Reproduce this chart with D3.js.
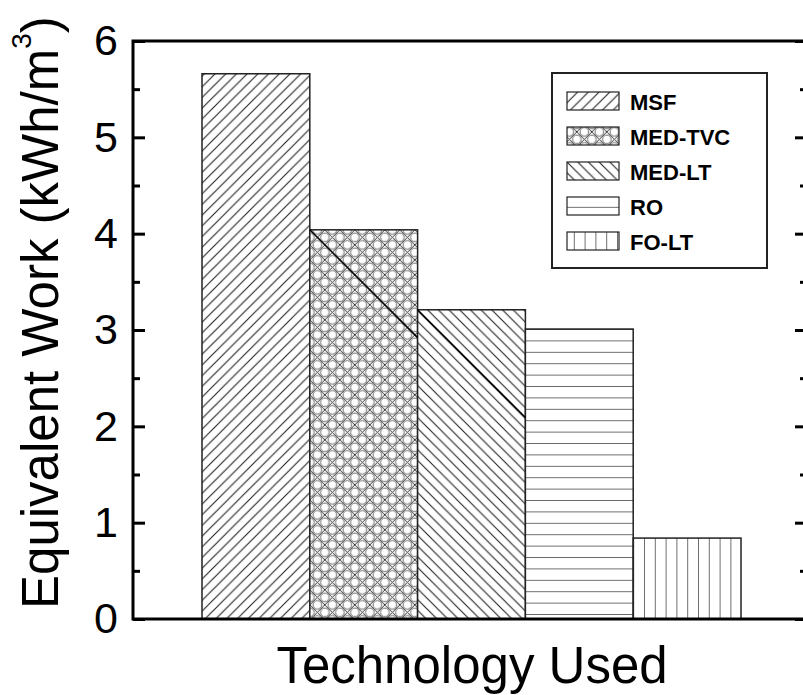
<!DOCTYPE html>
<html>
<head>
<meta charset="utf-8">
<script src="https://d3js.org/d3.v7.min.js"></script>
<style>
  html, body { margin: 0; padding: 0; background: #fff; }
  svg { display: block; }
  text { font-family: "Liberation Sans", Arial, Helvetica, sans-serif; fill: #000; }
</style>
</head>
<body>
<svg id="chart" width="803" height="695"></svg>
<script>
// ---- data ----
const categories = ["MSF", "MED-TVC", "MED-LT", "RO", "FO-LT"];
const values = [5.66, 4.04, 3.21, 3.01, 0.84];
const patterns = ["hatchFwd", "crossCircle", "hatchBack", "horiz", "vert"];
const yTicks = [0, 1, 2, 3, 4, 5, 6];
const yMinorTicks = [0.5, 1.5, 2.5, 3.5, 4.5, 5.5];
const xTitle = "Technology Used";
const yTitle = "Equivalent Work (kWh/m";

// ---- layout ----
const frame = { left: 133, right: 807, top: 41, bottom: 619 };
const svg = d3.select("#chart");

const x = d3.scaleBand().domain(categories).range([202, 741]).paddingInner(0).paddingOuter(0);
const y = d3.scaleLinear().domain([0, 6]).range([frame.bottom, frame.top]);

// ---- patterns ----
const defs = svg.append("defs");
const hatchStroke = "#222";
function diag(id, fwd) {
  const s = 10.7;
  const p = defs.append("pattern").attr("id", id).attr("patternUnits", "userSpaceOnUse")
    .attr("width", s).attr("height", s);
  p.append("rect").attr("width", s).attr("height", s).attr("fill", "#fff");
  const d = fwd
    ? `M0,${s} L${s},0 M${-s/2},${s/2} L${s/2},${-s/2} M${s/2},${s*1.5} L${s*1.5},${s/2}`
    : `M0,0 L${s},${s} M${-s/2},${s/2} L${s/2},${s*1.5} M${s/2},${-s/2} L${s*1.5},${s/2}`;
  p.append("path").attr("d", d).attr("stroke", hatchStroke).attr("stroke-width", 1.1);
}
diag("hatchFwd", true);
diag("hatchBack", false);
(function () {
  const s = 15;
  const p = defs.append("pattern").attr("id", "crossCircle").attr("patternUnits", "userSpaceOnUse")
    .attr("width", s).attr("height", s).attr("x", x(categories[1])).attr("y", y(values[1]));
  p.append("rect").attr("width", s).attr("height", s).attr("fill", "#fff");
  p.append("path").attr("d", `M0,0 L${s},${s} M0,${s} L${s},0`).attr("stroke", "#333").attr("stroke-width", 1);
  [[s/2, 0], [0, s/2], [s, s/2], [s/2, s]].forEach(([cx, cy]) => {
    p.append("circle").attr("cx", cx).attr("cy", cy).attr("r", 4.3)
      .attr("fill", "#fff").attr("stroke", "#666").attr("stroke-width", 1);
  });
})();
(function () {
  const s = 11.4;
  const p = defs.append("pattern").attr("id", "horiz").attr("patternUnits", "userSpaceOnUse")
    .attr("width", 20).attr("height", s).attr("y", y(values[3]));
  p.append("rect").attr("width", 20).attr("height", s).attr("fill", "#fff");
  p.append("path").attr("d", `M0,0 L20,0`).attr("stroke", hatchStroke).attr("stroke-width", 1.3);
})();
(function () {
  const s = 10.8;
  const p = defs.append("pattern").attr("id", "vert").attr("patternUnits", "userSpaceOnUse")
    .attr("width", s).attr("height", 20).attr("x", x(categories[4]));
  p.append("rect").attr("width", s).attr("height", 20).attr("fill", "#fff");
  p.append("path").attr("d", `M0,0 L0,20`).attr("stroke", hatchStroke).attr("stroke-width", 1.3);
})();

// ---- bars ----
const bars = svg.append("g");
bars.selectAll("rect")
  .data(categories)
  .join("rect")
  .attr("x", d => x(d))
  .attr("y", (d, i) => y(values[i]))
  .attr("width", x.bandwidth())
  .attr("height", (d, i) => y(0) - y(values[i]))
  .attr("fill", (d, i) => `url(#${patterns[i]})`)
  .attr("stroke", "#222")
  .attr("stroke-width", 1.5);

// darker first hatch line seen on the MED bars (pattern start artefact)
bars.selectAll("line.lead")
  .data([1, 2])
  .join("line")
  .attr("class", "lead")
  .attr("x1", i => x(categories[i]))
  .attr("y1", i => y(values[i]))
  .attr("x2", i => x(categories[i]) + x.bandwidth())
  .attr("y2", i => y(values[i]) + x.bandwidth())
  .attr("stroke", "#000").attr("stroke-width", 1.5);

// ---- axes (inward ticks) ----
function styleAxis(g) {
  g.select(".domain").remove();
  g.selectAll("line").attr("stroke", "#000").attr("stroke-width", 3);
}
const axL = svg.append("g").attr("transform", `translate(${frame.left},0)`)
  .call(d3.axisLeft(y).tickValues(yTicks).tickSize(-12).tickSizeOuter(0).tickPadding(15).tickFormat(d3.format("d")));
styleAxis(axL);
axL.selectAll("text").attr("font-size", 43).attr("font-family", "Liberation Sans, Arial, sans-serif").attr("fill", "#000");

svg.append("g").attr("transform", `translate(${frame.left},0)`)
  .call(d3.axisLeft(y).tickValues(yMinorTicks).tickSize(-7).tickSizeOuter(0).tickFormat(""))
  .call(styleAxis);
svg.append("g").attr("transform", `translate(${frame.right},0)`)
  .call(d3.axisRight(y).tickValues(yTicks).tickSize(-12).tickSizeOuter(0).tickFormat(""))
  .call(styleAxis);
svg.append("g").attr("transform", `translate(${frame.right},0)`)
  .call(d3.axisRight(y).tickValues(yMinorTicks).tickSize(-7).tickSizeOuter(0).tickFormat(""))
  .call(styleAxis);

// frame
svg.append("rect")
  .attr("x", frame.left).attr("y", frame.top)
  .attr("width", frame.right - frame.left).attr("height", frame.bottom - frame.top)
  .attr("fill", "none").attr("stroke", "#000").attr("stroke-width", 3);

// ---- titles ----
svg.append("text")
  .attr("x", (frame.left + frame.right) / 2 + 2).attr("y", 683)
  .attr("text-anchor", "middle").attr("font-size", 51)
  .text(xTitle);

const yt = svg.append("text")
  .attr("transform", `translate(58,609) rotate(-90)`)
  .attr("text-anchor", "start").attr("font-size", 51);
yt.append("tspan").text(yTitle);
yt.append("tspan").attr("font-size", 28).attr("dy", -27).text("3");
yt.append("tspan").attr("dy", 27).text(")");

// ---- legend ----
const lg = svg.append("g");
lg.append("rect").attr("x", 552).attr("y", 73).attr("width", 215).attr("height", 195)
  .attr("fill", "#fff").attr("stroke", "#222").attr("stroke-width", 2);
const row = lg.selectAll("g.row").data(categories).join("g").attr("class", "row")
  .attr("transform", (d, i) => `translate(567,${92 + i * 35})`);
row.append("rect").attr("width", 52).attr("height", 18)
  .attr("fill", (d, i) => `url(#${patterns[i]})`).attr("stroke", "#222").attr("stroke-width", 1.2);
row.append("text").attr("x", 63).attr("y", 18).attr("font-size", 22).attr("font-weight", "bold")
  .text(d => d);
</script>
</body>
</html>
